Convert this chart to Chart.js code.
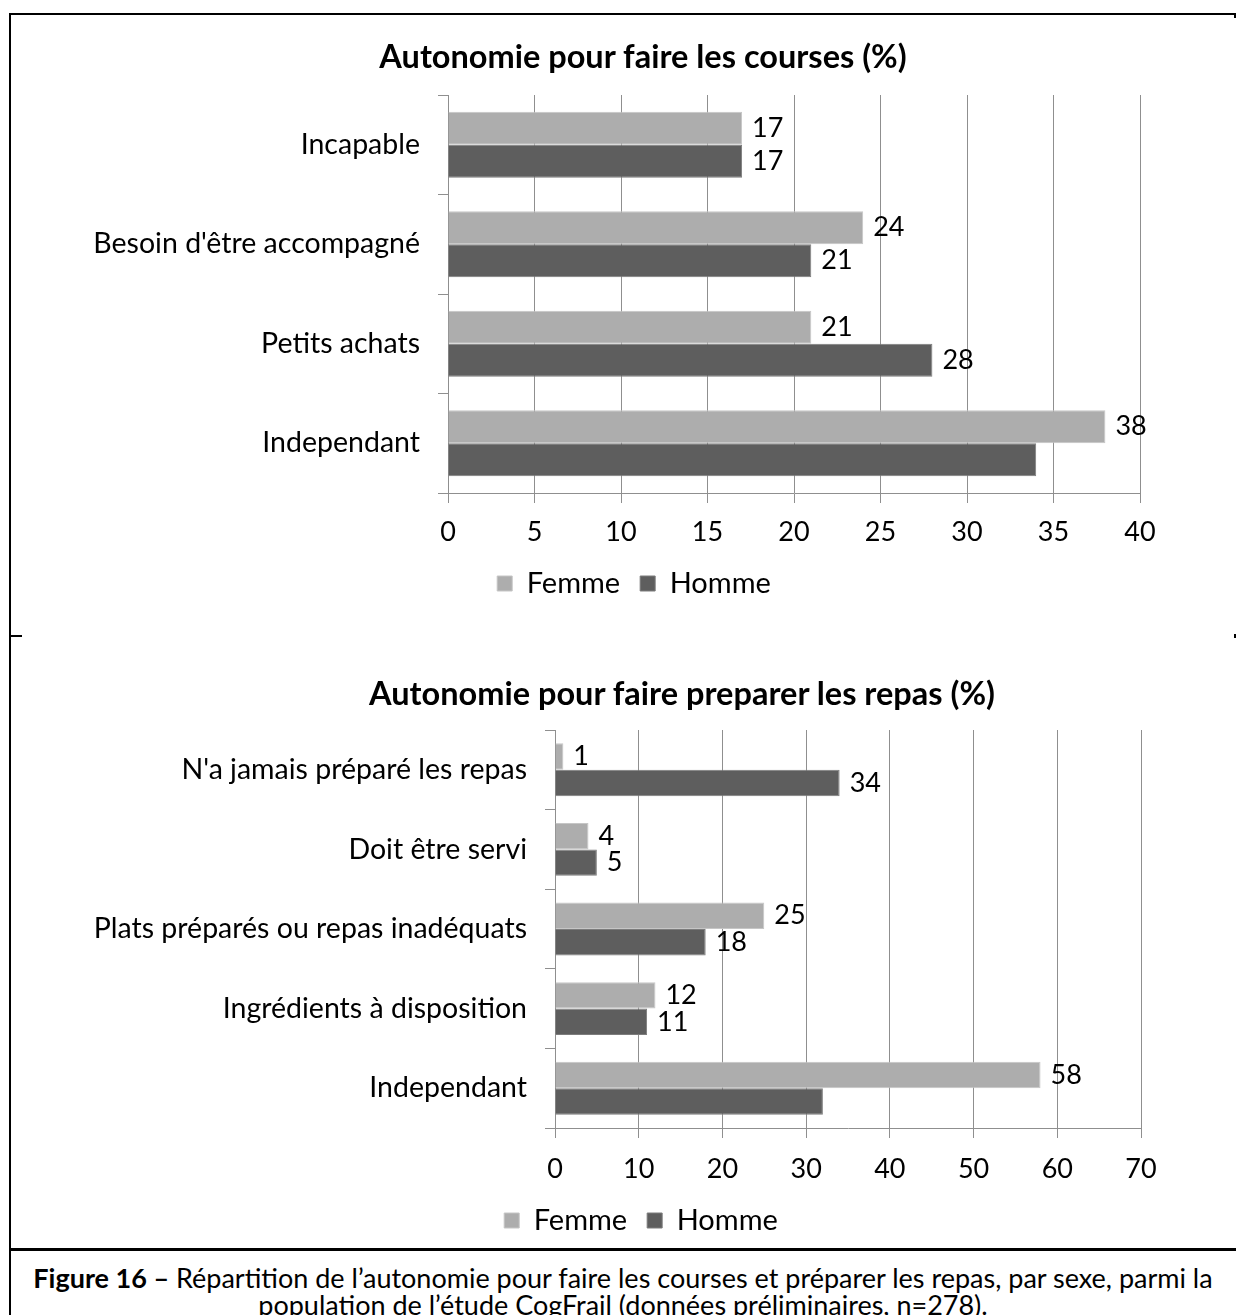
<!DOCTYPE html>
<html lang="fr">
<head>
<meta charset="utf-8">
<title>Figure 16</title>
<script src="https://cdn.jsdelivr.net/npm/chart.js@4.4.1/dist/chart.umd.min.js"></script>
<style>
  html, body { margin: 0; padding: 0; background: #fff; }
  body { width: 1236px; height: 1315px; position: relative; overflow: hidden; font-family: Lato, 'Noto Sans', sans-serif; color: #000; }
  .line { position: absolute; background: #000; }
  .chart-box { position: absolute; left: 0; width: 1236px; }
  .chart-title { position: absolute; font-weight: bold; font-size: 32.5px; white-space: nowrap; transform: translate(-50%, -50%); }
  .caption { position: absolute; left: 11px; width: 1224px; top: 1264px; text-align: center; font-size: 27px; line-height: 27px; }
</style>
</head>
<body>
<div class="chart-box" style="top: 0; height: 636px;"><canvas id="coursesChart"></canvas></div>
<div class="chart-box" style="top: 636px; height: 614px;"><canvas id="repasChart"></canvas></div>

<div class="chart-title" style="left: 643px; top: 55px;">Autonomie pour faire les courses (%)</div>
<div class="chart-title" style="left: 682px; top: 692px;">Autonomie pour faire preparer les repas (%)</div>

<!-- frame -->
<div class="line" style="left: 9px; top: 13px; width: 2px; height: 1302px;"></div>
<div class="line" style="left: 9px; top: 13px; width: 1227px; height: 2px;"></div>
<div class="line" style="left: 1234px; top: 13px; width: 2px; height: 5px;"></div>
<div class="line" style="left: 9px; top: 635px; width: 13px; height: 2px;"></div>
<div class="line" style="left: 1234px; top: 634px; width: 2px; height: 4px;"></div>
<div class="line" style="left: 9px; top: 1248px; width: 1227px; height: 3px;"></div>

<div class="caption"><b>Figure 16 –</b> Répartition de l’autonomie pour faire les courses et préparer les repas, par sexe, parmi la<br>population de l’étude CogFrail (données préliminaires, n=278).</div>

<script>
// courses
const coursesCategories = ['Incapable', "Besoin d'être accompagné", 'Petits achats', 'Independant'];
const coursesFemme = [17, 24, 21, 38];
const coursesHomme = [17, 21, 28, 34];
const coursesFemmeShown = [true, true, true, true];
const coursesHommeShown = [true, true, true, false];
const coursesTicks = [0, 5, 10, 15, 20, 25, 30, 35, 40];

// repas
const repasCategories = ["N'a jamais préparé les repas", 'Doit être servi', 'Plats préparés ou repas inadéquats', 'Ingrédients à disposition', 'Independant'];
const repasFemme = [1, 4, 25, 12, 58];
const repasHomme = [34, 5, 18, 11, 32];
const repasFemmeShown = [true, true, true, true, true];
const repasHommeShown = [true, true, true, true, false];
const repasTicks = [0, 10, 20, 30, 40, 50, 60, 70];

const FONT = 'Lato';
const FEMME_COLOR = '#adadad';
const HOMME_COLOR = '#5e5e5e';
const GRID_COLOR = '#8f8f8f';

// value labels at the end of the bars
const barLabels = {
  id: 'barLabels',
  afterDatasetsDraw(chart, args, opts) {
    const ctx = chart.ctx;
    ctx.save();
    ctx.font = opts.size + 'px ' + FONT;
    ctx.fillStyle = '#000';
    ctx.textAlign = 'left';
    ctx.textBaseline = 'middle';
    chart.data.datasets.forEach((ds, i) => {
      chart.getDatasetMeta(i).data.forEach((bar, j) => {
        if (!ds.shown[j]) return;
        ctx.fillText(String(ds.data[j]), bar.x + opts.offset, bar.y);
      });
    });
    ctx.restore();
  }
};

// the legend is centred on the padded box, so the y axis box is kept narrow;
// widen its clip area afterwards so the long category names are not cut
const unclipLabels = {
  id: 'unclipLabels',
  afterLayout(chart) {
    chart.scales.y.left = 0;
  }
};

function makeChart(id, categories, femme, homme, femmeShown, hommeShown, ticks, box) {
  return new Chart(document.getElementById(id), {
    type: 'bar',
    data: {
      labels: categories,
      datasets: [
        { label: 'Femme', data: femme, shown: femmeShown, backgroundColor: FEMME_COLOR, borderColor: '#c6c6c6', borderWidth: 1, categoryPercentage: 0.665, barPercentage: 1 },
        { label: 'Homme', data: homme, shown: hommeShown, backgroundColor: HOMME_COLOR, borderColor: '#7c7c7c', borderWidth: 1, categoryPercentage: 0.665, barPercentage: 1 }
      ]
    },
    options: {
      indexAxis: 'y',
      responsive: true,
      maintainAspectRatio: false,
      animation: false,
      layout: { padding: { left: box.left, right: box.right, top: box.top, bottom: box.bottom } },
      scales: {
        x: {
          min: ticks[0],
          max: ticks[ticks.length - 1],
          ticks: { stepSize: ticks[1] - ticks[0], color: '#000', font: { family: FONT, size: 27 }, padding: box.tickPadding },
          grid: { color: GRID_COLOR, lineWidth: 1, tickLength: 10 },
          border: { color: GRID_COLOR, width: 1 },
          afterFit: (s) => { s.height = box.xAxisHeight; }
        },
        y: {
          ticks: { color: '#000', font: { family: FONT, size: 28.5 }, padding: 18 },
          grid: { drawOnChartArea: false, color: GRID_COLOR, tickLength: 10 },
          border: { color: GRID_COLOR, width: 1 },
          afterFit: (s) => { s.width = box.yAxisWidth; }
        }
      },
      plugins: {
        legend: {
          position: 'bottom',
          labels: { boxWidth: 15, boxHeight: 15, color: '#000', font: { family: FONT, size: 29 }, padding: 20 }
        },
        title: { display: false },
        tooltip: { enabled: false },
        barLabels: { size: 27, offset: 10 }
      }
    },
    plugins: [barLabels, unclipLabels]
  });
}

makeChart('coursesChart', coursesCategories, coursesFemme, coursesHomme, coursesFemmeShown, coursesHommeShown, coursesTicks,
  { left: 128, right: 96, top: 95, bottom: 28, yAxisWidth: 320, xAxisHeight: 56, tickPadding: 13 });

makeChart('repasChart', repasCategories, repasFemme, repasHomme, repasFemmeShown, repasHommeShown, repasTicks,
  { left: 141, right: 95, top: 94, bottom: 5, yAxisWidth: 414, xAxisHeight: 58, tickPadding: 15 });
</script>
</body>
</html>
